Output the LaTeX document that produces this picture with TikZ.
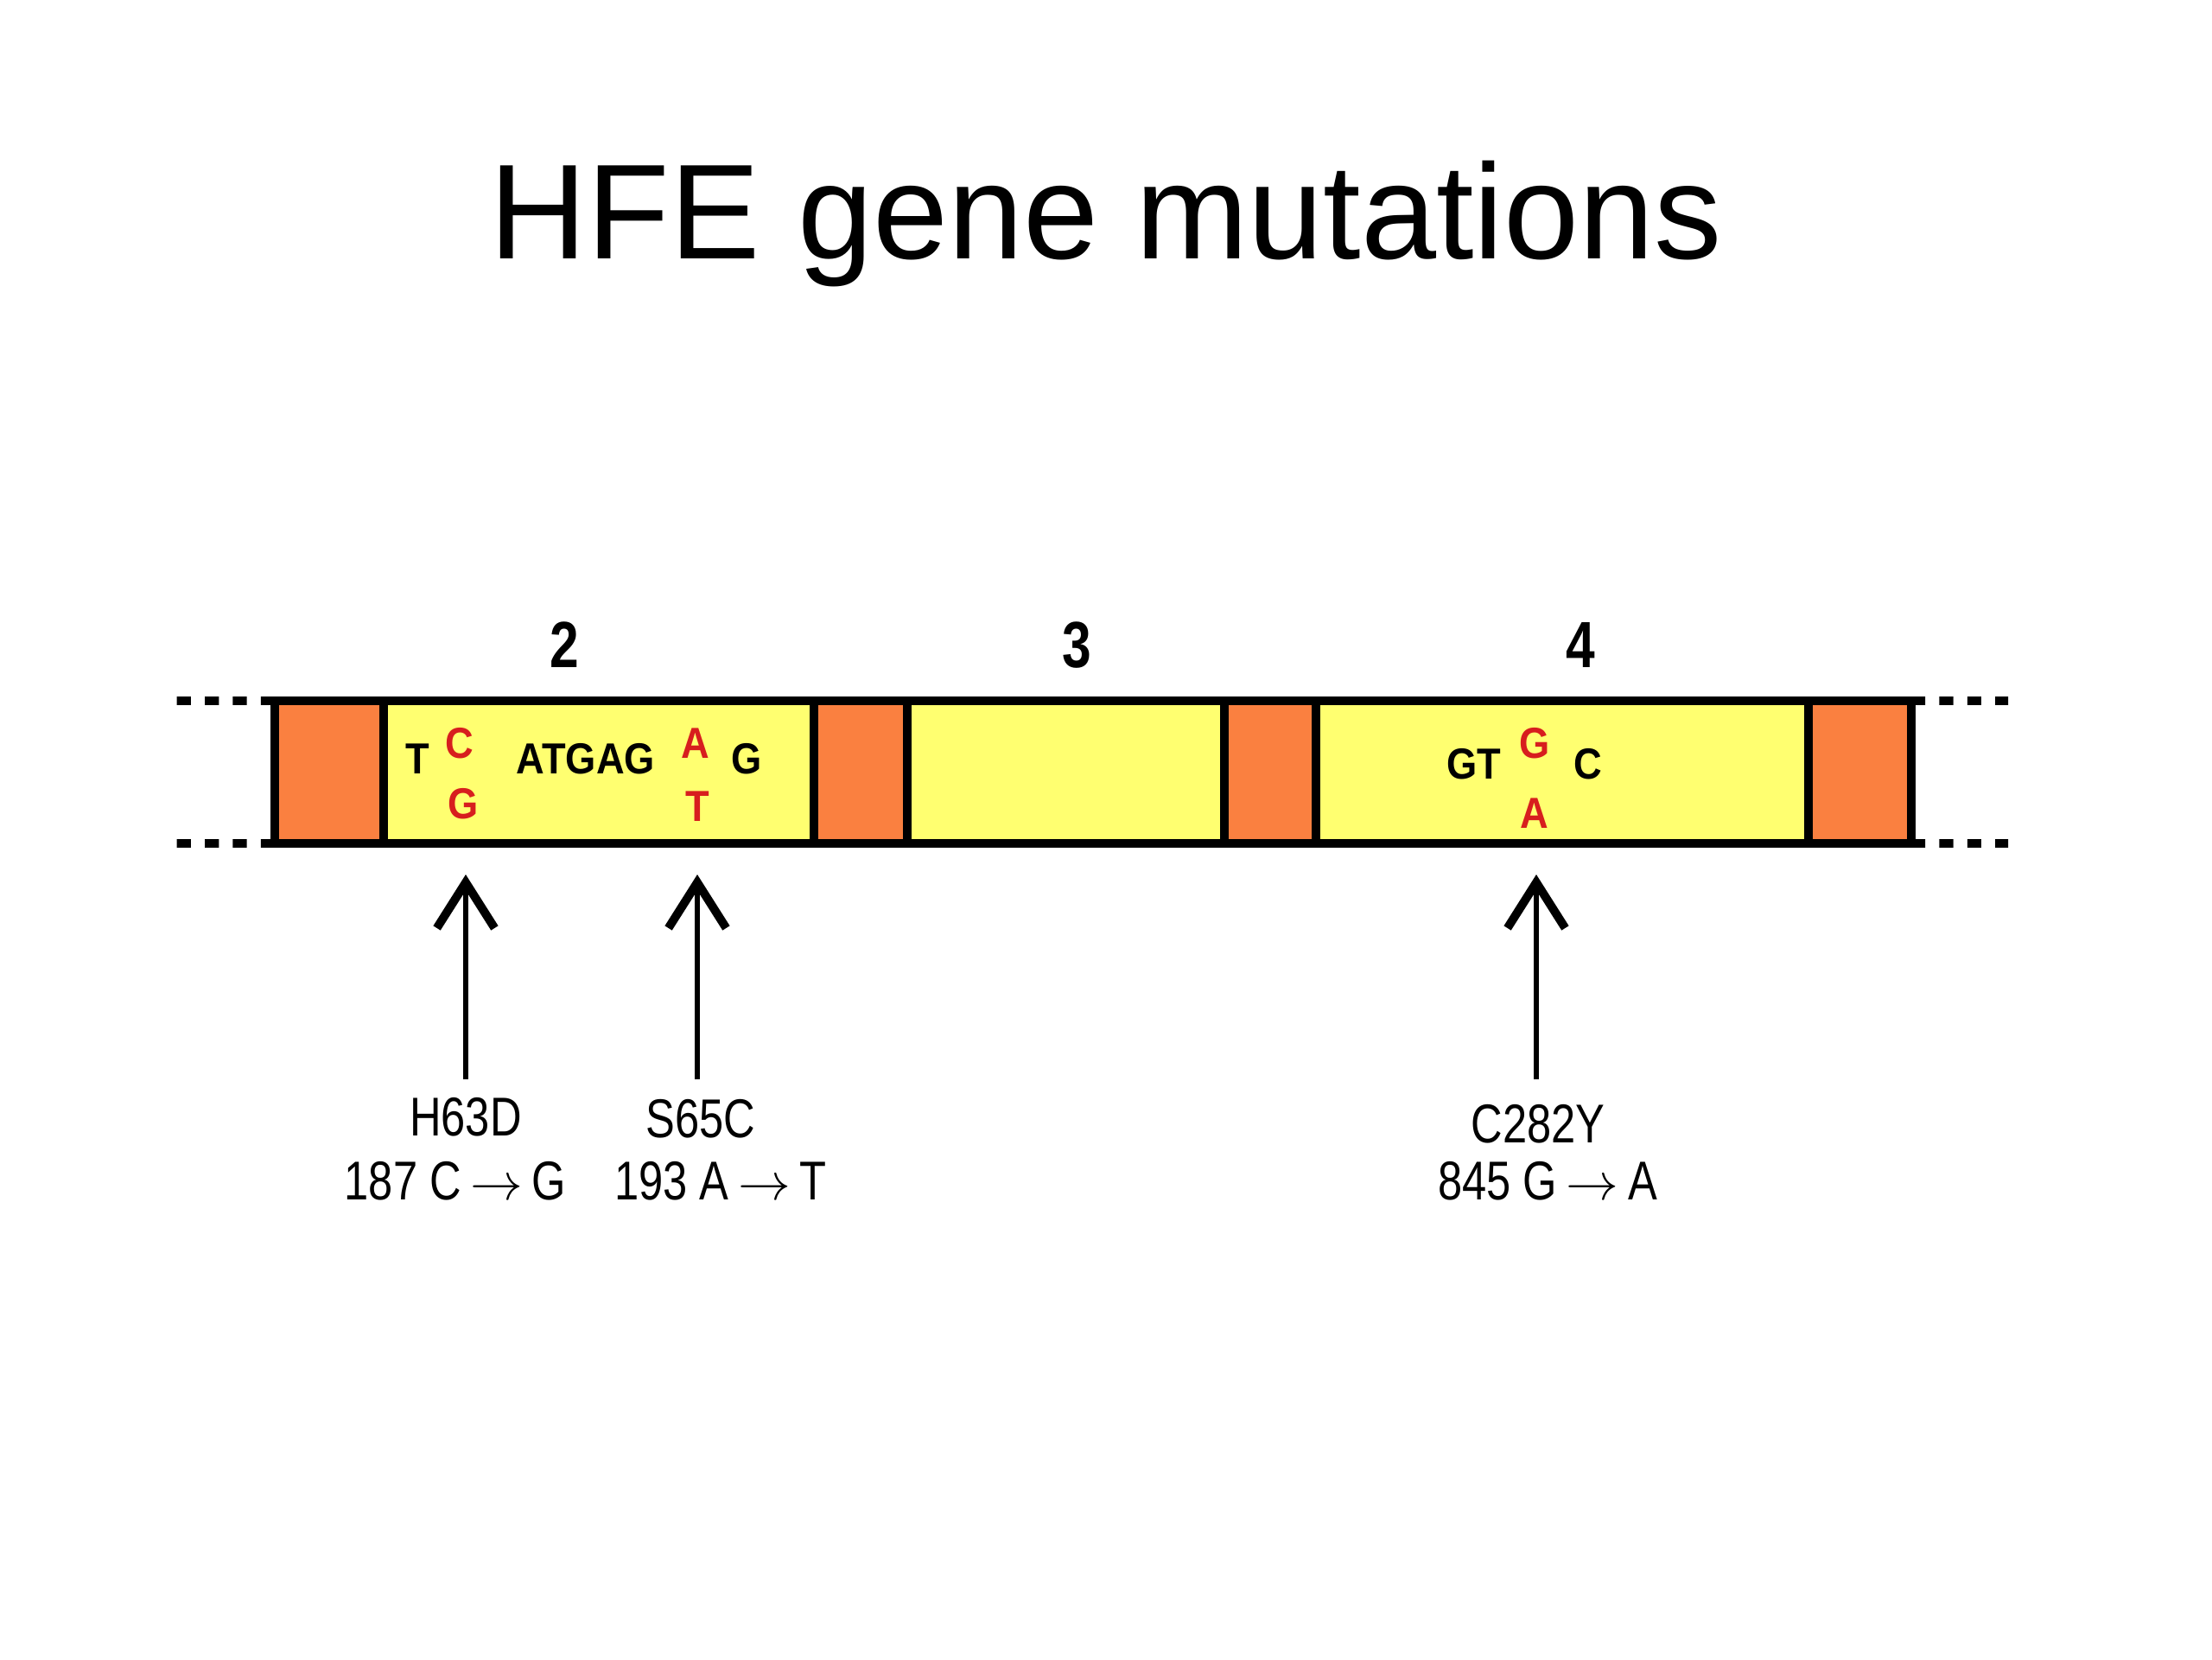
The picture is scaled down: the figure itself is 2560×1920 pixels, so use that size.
\documentclass[tikz,border=0pt]{standalone}
\usepackage{fontspec}
\setmainfont{Liberation Sans}
\newfontfamily\narrowf[FakeStretch=0.8]{Liberation Sans}
\newfontfamily\seqf[FakeStretch=0.9]{Liberation Sans}
\newfontfamily\digitf[FakeStretch=0.8]{Liberation Sans}
\usetikzlibrary{arrows.meta}
\definecolor{exorange}{RGB}{250,128,64}
\definecolor{exyellow}{RGB}{255,255,112}
\definecolor{mutred}{RGB}{215,30,30}
\tikzset{
  seg/.style={draw=black, line width=2.8pt, inner sep=0pt, outer sep=0pt, minimum height=1.65cm},
  intron/.style={seg, fill=exorange},
  exon/.style={seg, fill=exyellow},
  dots/.style={line width=2.8pt, dash pattern=on 4.6pt off 4.6pt},
  title/.style={font=\fontsize{44.5}{54}\selectfont, anchor=base, inner sep=0pt},
  exnum/.style={font=\digitf\bfseries\fontsize{21.5}{24}\selectfont, anchor=base, inner sep=0pt},
  seqtxt/.style={font=\seqf\bfseries\fontsize{14.3}{16}\selectfont, anchor=base, inner sep=0pt},
  seqred/.style={seqtxt, text=mutred},
  mutlabel/.style={font=\narrowf\fontsize{18}{22}\selectfont, anchor=base, inner sep=0pt},
  mutarrow/.style={line width=1.8pt, -{Straight Barb[length=15pt,width=19pt,line width=2.8pt]}}
}
\begin{document}
\begin{tikzpicture}[x=0.01cm, y=-0.01cm]
\useasboundingbox (0,0) rectangle (2560,1920);
\fill[white] (0,0) rectangle (2560,1920);

% title
\node[title] (ttl) at (1280,299) {HFE gene mutations};

% bar segments
\node[intron, minimum width=1.26cm] (o1) at (381,893.5) {};
\node[exon,   minimum width=4.98cm] (e2) at (693,893.5) {};
\node[intron, minimum width=1.08cm] (o2) at (996,893.5) {};
\node[exon,   minimum width=3.67cm] (e3) at (1233.5,893.5) {};
\node[intron, minimum width=1.06cm] (o3) at (1470,893.5) {};
\node[exon,   minimum width=5.70cm] (e4) at (1808,893.5) {};
\node[intron, minimum width=1.19cm] (o4) at (2152.5,893.5) {};

% dotted continuation lines
\coordinate (ltop) at (196,811);
\coordinate (lbot) at (196,976);
\coordinate (rtop) at (2324,811);
\coordinate (rbot) at (2324,976);
\draw[dots] (o1.north west) -- (ltop);
\draw[dots] (o1.south west) -- (lbot);
\draw[dots] (o4.north east) -- (rtop);
\draw[dots] (o4.south east) -- (rbot);

% exon numbers
\node[exnum] (n2) at (653,772) {2};
\node[exnum] (n3) at (1246,772) {3};
\node[exnum] (n4) at (1829,772) {4};

% exon 2 sequence
\node[seqtxt] (s1) at (483,895) {T};
\node[seqred] (s2) at (532,877) {C};
\node[seqred] (s3) at (536,947) {G};
\node[seqtxt] (s4) at (678,895) {ATGAG};
\node[seqred] (s5) at (805,877) {A};
\node[seqred] (s6) at (807,950) {T};
\node[seqtxt] (s7) at (864,895) {G};

% exon 4 sequence
\node[seqtxt] (q1) at (1706,901) {GT};
\node[seqred] (q2) at (1776,877) {G};
\node[seqtxt] (q3) at (1838,901) {C};
\node[seqred] (q4) at (1776,958) {A};

% mutation labels
\node[mutlabel] (m1) at (539,1314) {H63D};
\node[mutlabel] (m1b) at (527,1388) {187 C\,$\rightarrow$\,G};
\node[mutlabel] (m2) at (811,1316) {S65C};
\node[mutlabel] (m2b) at (834,1388) {193 A\,$\rightarrow$\,T};
\node[mutlabel] (m3) at (1780,1322) {C282Y};
\node[mutlabel] (m3b) at (1791,1388) {845 G\,$\rightarrow$\,A};

% arrows
\coordinate (a1) at (539,1249);
\coordinate (t1) at (539,1012);
\coordinate (a2) at (807,1249);
\coordinate (t2) at (807,1012);
\coordinate (a3) at (1778,1249);
\coordinate (t3) at (1778,1012);
\draw[mutarrow] (a1) -- (t1);
\draw[mutarrow] (a2) -- (t2);
\draw[mutarrow] (a3) -- (t3);
\end{tikzpicture}
\end{document}
